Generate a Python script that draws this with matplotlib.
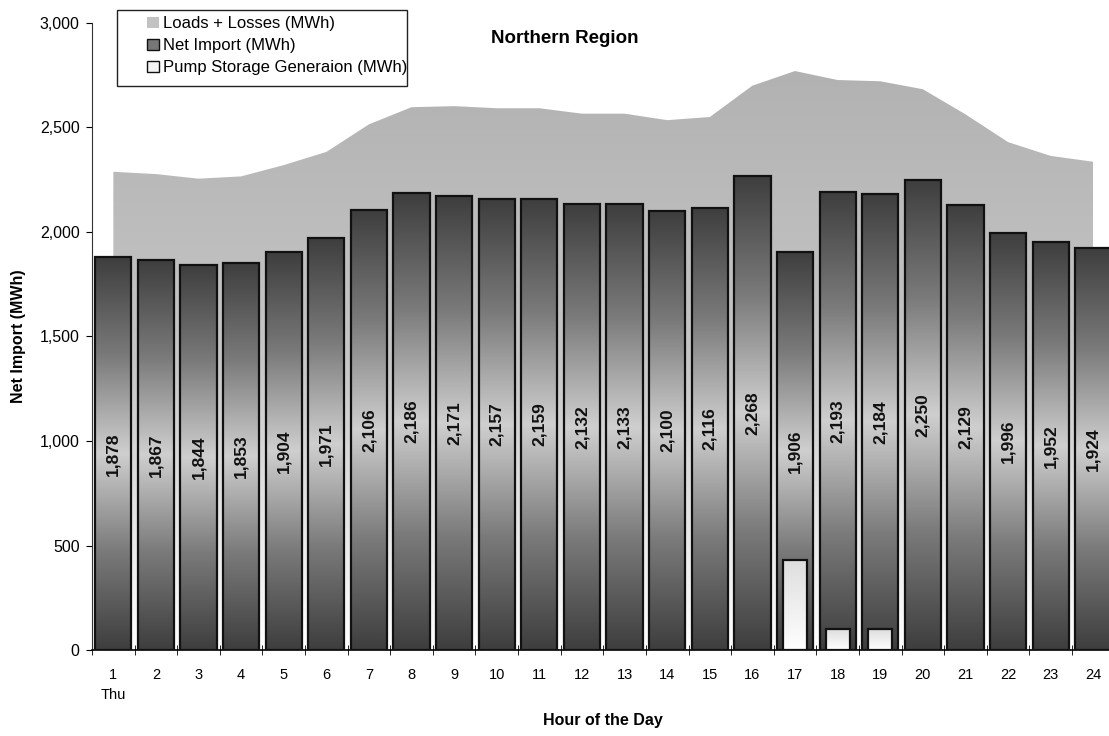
import numpy as np
import matplotlib
matplotlib.use("Agg")
import matplotlib.pyplot as plt
from matplotlib.colors import LinearSegmentedColormap
from matplotlib.patches import Polygon, Rectangle, Patch
from matplotlib.ticker import FuncFormatter, FixedLocator

plt.rcParams['font.family'] = ['Liberation Sans', 'DejaVu Sans']

hours = list(range(1, 25))
hour_labels = ["1\nThu"] + [str(h) for h in range(2, 25)]
net_import = [1878, 1867, 1844, 1853, 1904, 1971, 2106, 2186, 2171, 2157, 2159, 2132,
              2133, 2100, 2116, 2268, 1906, 2193, 2184, 2250, 2129, 1996, 1952, 1924]
loads_losses = [2288, 2277, 2255, 2266, 2320, 2383, 2515, 2597, 2602, 2592, 2592, 2566,
                2566, 2535, 2550, 2700, 2770, 2727, 2721, 2683, 2563, 2430, 2364, 2336]
pump_gen = [0, 0, 0, 0, 0, 0, 0, 0, 0, 0, 0, 0,
            0, 0, 0, 0, 432, 100, 100, 0, 0, 0, 0, 0]

fig = plt.figure(figsize=(11.09, 7.36), dpi=100)
ax = fig.add_axes([0.083, 0.1168, 0.922, 0.852])
ax.set_xlim(0.5, 24.5)
ax.set_ylim(0, 3000)

# Shaded area for loads + losses with a vertical grey-to-white gradient
area_cmap = LinearSegmentedColormap.from_list("area", ["#ffffff", "#c6c6c6", "#b2b2b2"])
verts = list(zip(hours, loads_losses)) + [(hours[-1], 0), (hours[0], 0)]
area_poly = Polygon(verts, closed=True, facecolor="none", edgecolor="none")
ax.add_patch(area_poly)
grad = np.linspace(0, 1, 256).reshape(-1, 1)
im = ax.imshow(grad, cmap=area_cmap, origin="lower", aspect="auto",
               extent=[hours[0], hours[-1], 0, max(loads_losses)], zorder=1)
im.set_clip_path(area_poly)

# Net import bars: dark at the ends, light in the middle
bar_cmap = LinearSegmentedColormap.from_list(
    "bar", ["#3e3e3e", "#7a7a7a", "#cfcfcf", "#7a7a7a", "#3e3e3e"])
bar_w = 0.85
bars = ax.bar(hours, net_import, width=bar_w, facecolor="none",
              edgecolor="#111111", linewidth=1.6, zorder=3)
for b, v in zip(bars, net_import):
    x0 = b.get_x()
    bim = ax.imshow(grad, cmap=bar_cmap, origin="lower", aspect="auto",
                    extent=[x0, x0 + bar_w, 0, v], zorder=2)
    bim.set_clip_path(b)
    ax.text(b.get_x() + bar_w / 2, v / 2, f"{v:,}", rotation=90, ha="center",
            va="center", fontsize=12.5, fontweight="bold", color="#111111", zorder=6)

# Pump storage generation bars
pump_cmap = LinearSegmentedColormap.from_list("pump", ["#ffffff", "#dedede"])
pw = 0.56
for h, v in zip(hours, pump_gen):
    if v <= 0:
        continue
    r = Rectangle((h - pw / 2, 0), pw, v, facecolor="none", edgecolor="#111111",
                  linewidth=1.6, zorder=5)
    ax.add_patch(r)
    pim = ax.imshow(grad, cmap=pump_cmap, origin="lower", aspect="auto",
                    extent=[h - pw / 2, h + pw / 2, 0, v], zorder=4)
    pim.set_clip_path(r)

# Axes styling
for s in ["top", "right"]:
    ax.spines[s].set_visible(False)
ax.spines["left"].set_color("#333333")
ax.spines["bottom"].set_linewidth(1.2)
ax.set_yticks(np.arange(0, 3001, 500))
ax.yaxis.set_major_formatter(FuncFormatter(lambda v, p: f"{int(v):,}"))
ax.tick_params(axis="y", direction="out", length=4, labelsize=11.5, pad=5)
ax.set_xticks(hours)
ax.set_xticklabels(hour_labels, fontsize=10.5, linespacing=1.5, va="top")
ax.tick_params(axis="x", which="major", length=0, pad=13)
ax.xaxis.set_minor_locator(FixedLocator(np.arange(0.5, 25, 1)))
ax.tick_params(axis="x", which="minor", direction="inout", length=7)

ax.set_ylabel("Net Import (MWh)", fontsize=11.5, fontweight="bold", labelpad=10)
ax.text(0.5, -0.113, "Hour of the Day", transform=ax.transAxes, ha="center",
        va="center", fontsize=11.5, fontweight="bold")
fig.text(0.509, 0.948, "Northern Region", ha="center", va="center",
         fontsize=13.5, fontweight="bold")

# Legend with its own frame box
fig.patches.append(Rectangle((0.1055, 0.8832), 0.2615, 0.1033, transform=fig.transFigure,
                             facecolor="white", edgecolor="#222222", linewidth=1.0,
                             zorder=9))
handles = [
    Patch(facecolor="#c2c2c2", edgecolor="none", label="Loads + Losses (MWh)"),
    Patch(facecolor="#777777", edgecolor="#111111", label="Net Import (MWh)"),
    Patch(facecolor="#f4f4f4", edgecolor="#111111", label="Pump Storage Generaion (MWh)"),
]
leg = fig.legend(handles=handles, loc="upper left", bbox_to_anchor=(0.1325, 0.978),
                 fontsize=12, frameon=False,
                 handlelength=0.7, handleheight=0.7, handletextpad=0.25,
                 labelspacing=0.42, borderpad=0, borderaxespad=0)
leg.set_zorder(10)

fig.savefig("out.png", dpi=100)
